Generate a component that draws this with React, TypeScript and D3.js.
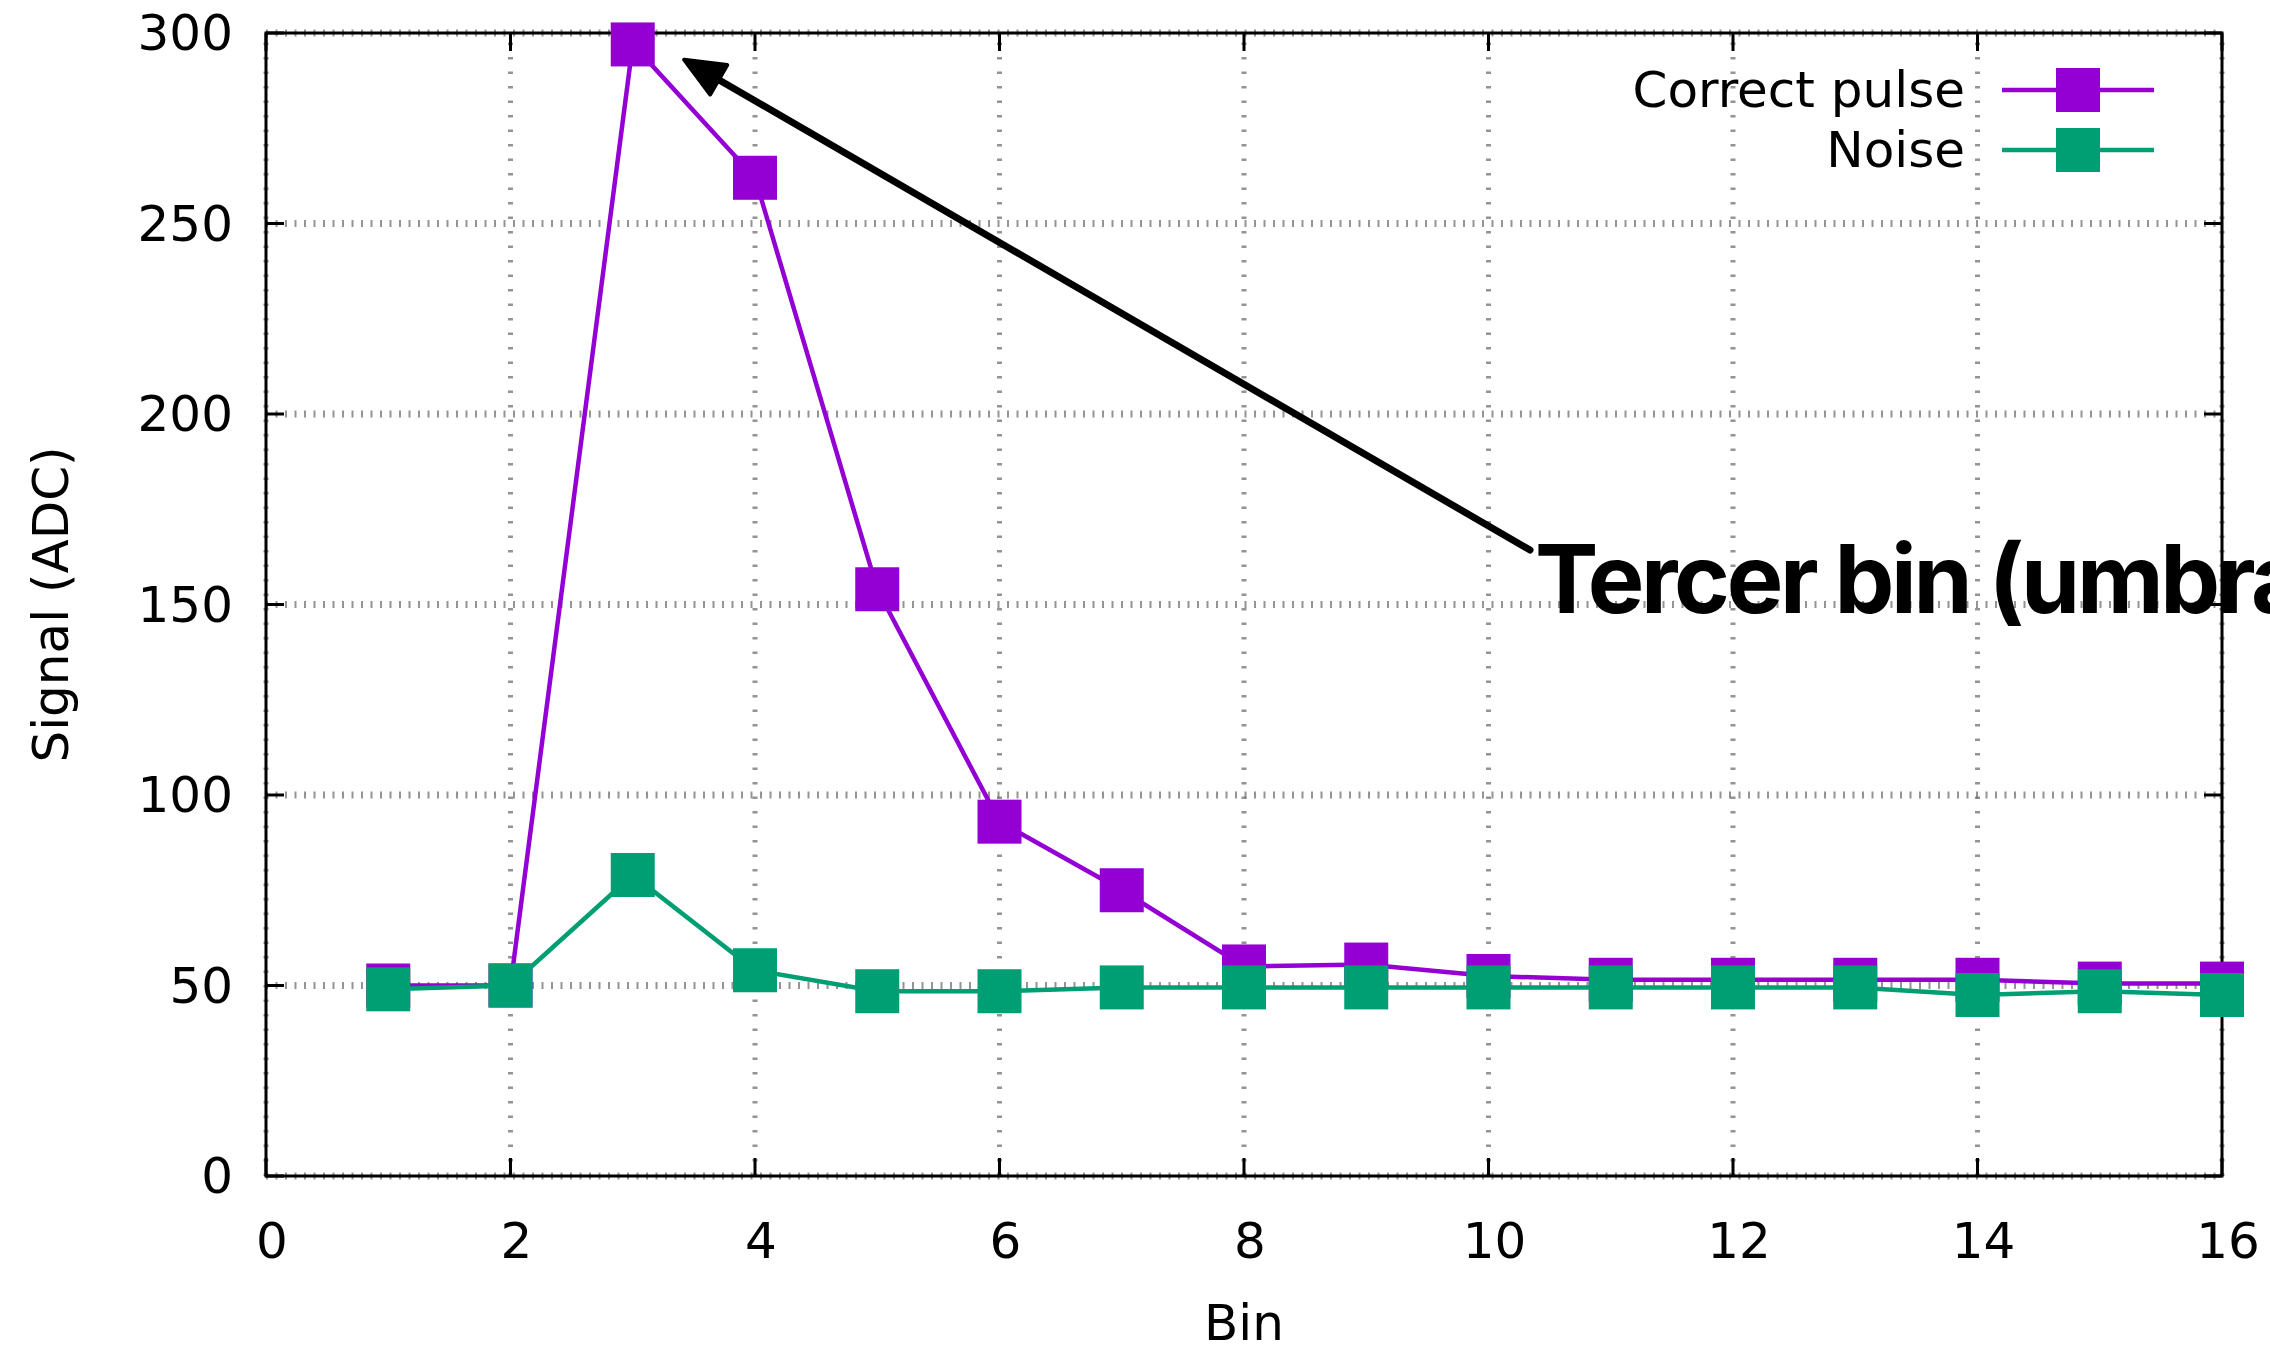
import React from "react";
import * as d3 from "d3";

const bins = [1, 2, 3, 4, 5, 6, 7, 8, 9, 10, 11, 12, 13, 14, 15, 16];
const correctPulse = [50, 50, 297, 262, 154, 93, 75, 55, 55.5, 52.5, 51.5, 51.5, 51.5, 51.5, 50.5, 50.5];
const noise = [49, 50, 79, 54, 48.5, 48.5, 49.5, 49.5, 49.5, 49.5, 49.5, 49.5, 49.5, 47.5, 48.5, 47.5];
const xTicks = [0, 2, 4, 6, 8, 10, 12, 14, 16];
const yTicks = [0, 50, 100, 150, 200, 250, 300];
const seriesNames = ["Correct pulse", "Noise"];
const seriesColors = ["#9400d3", "#009e73"];
const annotationText = "Tercer bin (umbral)";

const W = 2270;
const H = 1352;
const margin = { left: 266, right: 48, top: 33, bottom: 176 };

const App = () => {
  const x = d3.scaleLinear().domain([0, 16]).range([margin.left, W - margin.right]);
  const y = d3.scaleLinear().domain([0, 300]).range([H - margin.bottom, margin.top]);
  const line = d3
    .line<number>()
    .x((_, i) => x(bins[i]))
    .y((d) => y(d));

  const series = [correctPulse, noise];
  const font = "'DejaVu Sans', sans-serif";
  const fs = 50;
  const mk = 44;
  const tickLen = 18;

  // arrow from the label up to the peak
  const arrowStart = [1530, 550];
  const arrowEnd = [x(3.42), y(293)];
  const ang = Math.atan2(arrowEnd[1] - arrowStart[1], arrowEnd[0] - arrowStart[0]);
  const headLen = 40;
  const headW = 17;
  const bx = arrowEnd[0] - headLen * Math.cos(ang);
  const by = arrowEnd[1] - headLen * Math.sin(ang);
  const head = [
    [arrowEnd[0], arrowEnd[1]],
    [bx + headW * Math.sin(ang), by - headW * Math.cos(ang)],
    [bx - headW * Math.sin(ang), by + headW * Math.cos(ang)],
  ];

  return (
    <svg
      width={W}
      height={H}
      style={{ position: "absolute", left: 0, top: 0, background: "#fff" }}
    >
      <rect width={W} height={H} fill="#fff" />
      {/* grid */}
      <g stroke="#666" fill="none">
        {yTicks.map((t) => (
          <line
            key={"gy" + t}
            x1={x(0)}
            x2={x(16)}
            y1={y(t)}
            y2={y(t)}
            strokeWidth={7}
            strokeDasharray="2 7.5"
            opacity={0.7}
          />
        ))}
        {xTicks.map((t) => (
          <line
            key={"gx" + t}
            x1={x(t)}
            x2={x(t)}
            y1={y(0)}
            y2={y(300)}
            strokeWidth={5}
            strokeDasharray="2.5 12"
            opacity={0.7}
          />
        ))}
      </g>
      {/* border + ticks */}
      <rect
        x={x(0)}
        y={y(300)}
        width={x(16) - x(0)}
        height={y(0) - y(300)}
        fill="none"
        stroke="#000"
        strokeWidth={3}
      />
      <g stroke="#000" strokeWidth={3}>
        {xTicks.map((t) => (
          <g key={"tx" + t}>
            <line x1={x(t)} x2={x(t)} y1={y(0)} y2={y(0) - tickLen} />
            <line x1={x(t)} x2={x(t)} y1={y(300)} y2={y(300) + tickLen} />
          </g>
        ))}
        {yTicks.map((t) => (
          <g key={"ty" + t}>
            <line x1={x(0)} x2={x(0) + tickLen} y1={y(t)} y2={y(t)} />
            <line x1={x(16)} x2={x(16) - tickLen} y1={y(t)} y2={y(t)} />
          </g>
        ))}
      </g>
      {/* tick labels */}
      <g fontFamily={font} fontSize={fs} fill="#000">
        {xTicks.map((t) => (
          <text key={"lx" + t} x={x(t) + 6} y={y(0) + 82} textAnchor="middle">
            {t}
          </text>
        ))}
        {yTicks.map((t) => (
          <text key={"ly" + t} x={x(0) - 33} y={y(t) + 17} textAnchor="end">
            {t}
          </text>
        ))}
        <text x={(x(0) + x(16)) / 2} y={1340} textAnchor="middle">
          Bin
        </text>
        <text transform={`translate(68, ${(y(0) + y(300)) / 2}) rotate(-90)`} textAnchor="middle">
          Signal (ADC)
        </text>
      </g>
      {/* series */}
      {series.map((s, si) => (
        <g key={"s" + si}>
          <path d={line(s) || ""} fill="none" stroke={seriesColors[si]} strokeWidth={4.5} />
          {s.map((v, i) => (
            <rect
              key={i}
              x={x(bins[i]) - mk / 2}
              y={y(v) - mk / 2}
              width={mk}
              height={mk}
              fill={seriesColors[si]}
            />
          ))}
        </g>
      ))}
      {/* legend */}
      <g fontFamily={font} fontSize={fs}>
        {seriesNames.map((n, i) => (
          <g key={n} transform={`translate(0, ${90 + i * 60})`}>
            <text x={1965} y={17} textAnchor="end">
              {n}
            </text>
            <line x1={2002} x2={2154} y1={0} y2={0} stroke={seriesColors[i]} strokeWidth={4.5} />
            <rect x={2078 - mk / 2} y={-mk / 2} width={mk} height={mk} fill={seriesColors[i]} />
          </g>
        ))}
      </g>
      {/* annotation */}
      <line
        x1={arrowStart[0]}
        y1={arrowStart[1]}
        x2={bx}
        y2={by}
        stroke="#000"
        strokeWidth={7}
        strokeLinecap="round"
      />
      <polygon
        points={head.map((p) => p.join(",")).join(" ")}
        fill="#000"
        stroke="#000"
        strokeWidth={4}
        strokeLinejoin="round"
      />
      <text
        x={1535}
        y={613}
        fontFamily="Inter, 'Liberation Sans', sans-serif"
        fontWeight={700}
        fontSize={95}
        letterSpacing={-3.3}
        fill="#000"
      >
        {annotationText}
      </text>
    </svg>
  );
};

export default App;
